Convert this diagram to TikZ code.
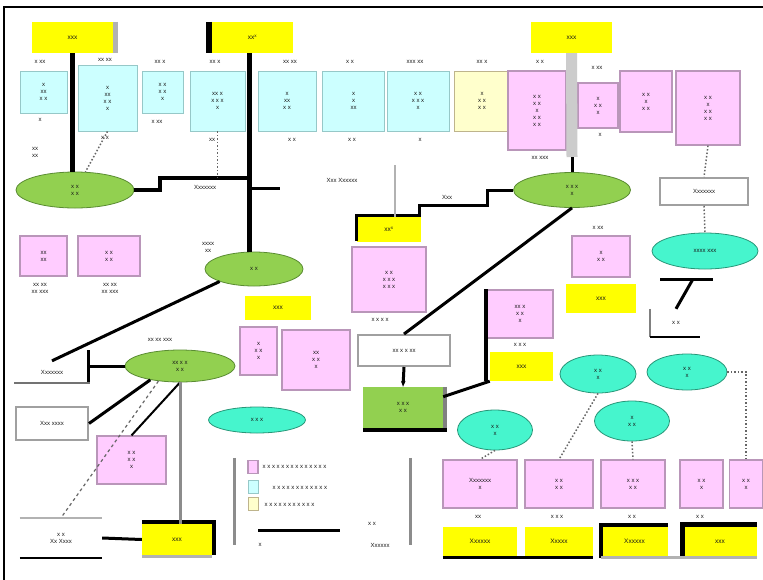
\documentclass[tikz,border=0pt]{standalone}
\usepackage{fontspec}
\setmainfont{Liberation Sans}
\usetikzlibrary{shapes.geometric,arrows.meta}
\definecolor{ylw}{RGB}{255,255,0}
\definecolor{cyb}{RGB}{204,255,255}
\definecolor{cyd}{RGB}{150,200,200}
\definecolor{pkb}{RGB}{255,204,255}
\definecolor{pkd}{RGB}{185,150,185}
\definecolor{lyb}{RGB}{255,255,204}
\definecolor{lyd}{RGB}{190,180,140}
\definecolor{grn}{RGB}{146,208,80}
\definecolor{grd}{RGB}{90,140,50}
\definecolor{trq}{RGB}{70,245,205}
\definecolor{trd}{RGB}{40,150,120}
\definecolor{gbd}{RGB}{160,160,160}
\newcommand\yft{\fontsize{6.5}{7.5}\selectfont}
\begin{document}
\begin{tikzpicture}[x=1pt,y=-1pt,
  every node/.style={font=\fontsize{6}{7}\selectfont,align=center,inner sep=0.5pt,text=black!90},
  ybox/.style={rectangle,fill=ylw,draw=none},
  cbox/.style={rectangle,fill=cyb,draw=cyd,line width=0.8pt},
  pbox/.style={rectangle,fill=pkb,draw=pkd,line width=1.2pt},
  lybox/.style={rectangle,fill=lyb,draw=lyd,line width=1pt},
  gell/.style={ellipse,fill=grn,draw=grd,line width=0.8pt,inner sep=0pt},
  tell/.style={ellipse,fill=trq,draw=trd,line width=0.8pt,inner sep=0pt},
  wbox/.style={rectangle,fill=white,draw=gbd,line width=2pt},
  conn/.style={draw=black,line width=3pt},
  lnk/.style={draw=black,line width=2pt},
  dotl/.style={draw=black!60,line width=1.5pt,dotted},
  gryl/.style={draw=black!30,line width=2pt},
  shd/.style={draw=black,line width=#1},
]
\useasboundingbox (0,0) rectangle (763,579);
\fill[white] (0,0) rectangle (763,579);
\draw[line width=1.6pt] (4,600) -- (4,7) -- (800,7);

% ---------- top yellow labels
\node[ybox,minimum width=81pt,minimum height=31pt] (Y1) at (72.5,37.5) {\yft xxx};
\node[ybox,minimum width=81pt,minimum height=31pt] (Y2) at (252.5,37.5) {\yft xx\textsuperscript{x}};
\node[ybox,minimum width=81pt,minimum height=31pt] (Y3) at (571.5,37.5) {\yft xxx};
\draw[draw=black!30,line width=5pt] ([xshift=2.5pt]Y1.north east) -- ([xshift=2.5pt]Y1.south east);
\draw[shd=6pt] ([xshift=-3pt]Y2.north west) -- ([xshift=-3pt]Y2.south west);

% ---------- cyan row
\node[cbox,minimum width=47pt,minimum height=42pt] (A1) at (43.5,92) {x\\xx\\x x};
\node[cbox,minimum width=59pt,minimum height=66pt] (A2) at (107.5,98) {x\\xx\\x x\\x};
\node[cbox,minimum width=41pt,minimum height=42pt] (A3) at (162.5,92) {x x\\x x\\x};
\node[cbox,minimum width=55pt,minimum height=60pt] (A4) at (217.5,101) {xx x\\x x x\\x};
\node[cbox,minimum width=58pt,minimum height=60pt] (A5) at (287,101) {x\\xx\\x x};
\node[cbox,minimum width=62pt,minimum height=60pt] (A6) at (353.5,101) {x\\x\\xx};
\node[cbox,minimum width=62pt,minimum height=60pt] (A7) at (418,101) {x x\\x x x\\x};
\node[lybox,minimum width=56pt,minimum height=60pt] (LY) at (482,101) {x\\x x\\x x};

% ---------- pink row top
\node[pbox,minimum width=58pt,minimum height=79pt] (B1) at (537,110.5) {x x\\x x\\x\\x x\\x x};
\node[pbox,minimum width=40pt,minimum height=45pt] (B2) at (598,105.5) {x\\x x\\x};
\node[pbox,minimum width=52pt,minimum height=61pt] (B3) at (646,101.5) {x x\\x\\x x};
\node[pbox,minimum width=64pt,minimum height=74pt] (B4) at (708,108) {x x\\x\\x x\\x x};

% small labels above / below top boxes
\node (t1) at (40,62) {x xx};
\node (t2) at (105,60) {xx xx};
\node (t3) at (160,62) {xx x};
\node (t4) at (215,62) {xx x};
\node (t5) at (290,62) {xx xx};
\node (t6) at (350,62) {x x};
\node (t7) at (415,62) {xxx xx};
\node (t8) at (482,62) {xx x};
\node (t9) at (540,62) {x x};
\node (t10) at (597,68) {x xx};
\node (u1) at (40,120) {x};
\node (u2) at (105,138) {x x};
\node (u3) at (157,122) {x xx};
\node (u4) at (212,140) {xx};
\node (u5) at (292,140) {x x};
\node (u6) at (352,140) {x x};
\node (u7) at (420,140) {x};
\node (u8) at (540,158) {xx xxx};
\node (u9) at (600,135) {x};

% ---------- green ellipses
\node[gell,minimum width=118pt,minimum height=36pt] (G1) at (75,190) {x x\\x x};
\node[gell,minimum width=98pt,minimum height=34pt] (G2) at (254,269) {x x};
\node[gell,minimum width=110pt,minimum height=32pt] (G3) at (180,366) {xx x x\\x x};
\node[gell,minimum width=117pt,minimum height=35pt] (G4) at (572,190) {x x x\\x};
\node[rectangle,fill=grn,draw=none,minimum width=80pt,minimum height=41pt] (GR) at (403,407.5) {x x x\\x x};
\draw[draw=black!50,line width=4pt] ([xshift=2pt]GR.north east) -- ([xshift=2pt]GR.south east);
\draw[shd=4pt] ([yshift=-2pt]GR.south west) -- ([xshift=4pt,yshift=-2pt]GR.south east);

% ---------- labels near green
\node (n1) at (35,152) {xx\\xx};
\node (n2) at (205,187) {Xxxxxxx};
\node (n3) at (342,180) {Xxx Xxxxxx};
\node (n4) at (447,197) {Xxx};
\node (n5) at (208,247) {xxxx\\xx};
\node (n6) at (160,340) {xx xx xxx};

% ---------- middle pinks
\node[pbox,minimum width=47pt,minimum height=40pt] (Pa) at (43.5,256) {xx\\xx};
\node[pbox,minimum width=62pt,minimum height=40pt] (Pb) at (109,256) {x x\\x x};
\node (pa1) at (40,288) {xx xx\\xx xxx};
\node (pb1) at (110,288) {xx xx\\xx xxx};

\node[ybox,minimum width=64pt,minimum height=25pt] (Yc) at (389,229.5) {\yft xx\textsuperscript{x}};
\draw[shd=3pt] ([yshift=1.5pt]Yc.south west) -- ([yshift=1.5pt]Yc.north west) -- ([yshift=1.5pt]Yc.north east);
\node[pbox,minimum width=74pt,minimum height=65pt] (Pc) at (389,279.5) {x x\\x x x\\x x x};
\node (pc1) at (380,320) {x x x x};

\node[pbox,minimum width=58pt,minimum height=41pt] (Pd) at (601,256.5) {x\\x x};
\node[ybox,minimum width=70pt,minimum height=29pt] (Yd) at (601,298.5) {\yft xxx};
\node (pd1) at (598,228) {x xx};

\node[pbox,minimum width=66pt,minimum height=48pt] (Pe) at (520,314) {xx x\\x x\\x};
\node[ybox,minimum width=63pt,minimum height=29pt] (Ye) at (521.5,366.5) {\yft xxx};
\draw[shd=4pt] (Pe.north west) -- (Pe.north west |- Ye.south);
\node (pe1) at (520,345) {x x x};

\node[ybox,minimum width=66pt,minimum height=24pt] (Yf) at (278,308) {\yft xxx};
\node[pbox,minimum width=37pt,minimum height=48pt] (Pf1) at (258.5,351) {x\\x x\\x};
\node[pbox,minimum width=68pt,minimum height=60pt] (Pf2) at (316,360) {xx\\x x\\x};

\node[pbox,minimum width=69pt,minimum height=48pt] (Pg) at (131.5,460) {x x\\x x\\x};

% ---------- turquoise ellipses
\node[tell,minimum width=106pt,minimum height=36pt] (C1) at (705,251) {xxxx xxx};
\node[tell,minimum width=76pt,minimum height=38pt] (C2) at (598,374) {x x\\x};
\node[tell,minimum width=80pt,minimum height=36pt] (C3) at (687,372) {x x\\x};
\node[tell,minimum width=75pt,minimum height=40pt] (C4) at (495,430) {x x\\x};
\node[tell,minimum width=75pt,minimum height=40pt] (C5) at (632,421) {x\\x x};
\node[tell,minimum width=97pt,minimum height=26pt] (C6) at (257,420) {x x x};

% ---------- white label boxes
\node[wbox,minimum width=88pt,minimum height=27pt] (L1) at (704,191.5) {Xxxxxxx};
\node[wbox,minimum width=92pt,minimum height=31pt] (L2) at (404,350.5) {xx x x xx};
\node[wbox,minimum width=72pt,minimum height=33pt] (L3) at (52,423.5) {Xxx xxxx};
\node[minimum width=82pt,minimum height=40pt] (L4) at (61,538) {x x\\Xx Xxxx};
\draw[gryl] (L4.north west) -- (L4.north east);
\draw[shd=2.5pt] (L4.south west) -- (L4.south east);
\node[minimum width=75pt,minimum height=22pt] (L5) at (52,372) {Xxxxxxx};
\draw[draw=black!55,line width=2.5pt] (L5.south west) -- (L5.south east);
\node[minimum width=52pt,minimum height=28pt] (L6) at (676,323) {x x};
\draw[draw=black!50,line width=2pt] (L6.north west) -- (L6.south west);
\draw[shd=2.5pt] (L6.south west) -- ([xshift=-2pt]L6.south east);

% ---------- bottom rows
\node[pbox,minimum width=74pt,minimum height=48pt] (Q1) at (480,484) {Xxxxxxx\\x};
\node[pbox,minimum width=68pt,minimum height=48pt] (Q2) at (559,484) {x x\\x x};
\node[pbox,minimum width=64pt,minimum height=48pt] (Q3) at (633,484) {x x x\\x x};
\node[pbox,minimum width=43pt,minimum height=48pt] (Q4) at (701.5,484) {x x\\x};
\node[pbox,minimum width=33pt,minimum height=48pt] (Q5) at (746,484) {x x\\x};
\node (q1) at (478,517) {xx};
\node (q2) at (557,517) {x x x};
\node (q3) at (632,517) {x x};
\node (q4) at (700,517) {x x};
\node[ybox,minimum width=74pt,minimum height=29pt] (Z1) at (480,541.5) {\yft Xxxxxx};
\node[ybox,minimum width=68pt,minimum height=29pt] (Z2) at (559,541.5) {\yft Xxxxx};
\node[ybox,minimum width=67pt,minimum height=29pt] (Z3) at (634.5,541.5) {\yft Xxxxxx};
\node[ybox,minimum width=74pt,minimum height=29pt] (Z4) at (720,541.5) {\yft xxx};
\draw[shd=3pt] ([yshift=-1.5pt]Z1.south west) -- ([yshift=-1.5pt]Z2.south east);
\draw[shd=4pt] ([yshift=-2pt]Z3.south west) -- ([yshift=2pt]Z3.north west) -- ([yshift=2pt]Z3.north east);
\draw[shd=5pt] ([yshift=-2pt]Z4.south west) -- ([yshift=2.5pt]Z4.north west) -- ([yshift=2.5pt]Z4.north east);
\draw[draw=black!30,line width=3pt] ([yshift=-1.5pt]Z3.south west) -- ([yshift=-1.5pt]Z4.south east);

\node[ybox,minimum width=70pt,minimum height=31pt] (Yb) at (177,539.5) {\yft xxx};
\draw[shd=4pt] ([yshift=2pt]Yb.north west) -- ([xshift=2pt,yshift=2pt]Yb.north east) -- ([xshift=2pt]Yb.south east);
\draw[draw=black!30,line width=3pt] ([yshift=-1.5pt]Yb.south west) -- ([yshift=-1.5pt]Yb.south east);

% ---------- legend
\node[minimum width=175pt,minimum height=87pt] (LG) at (322.5,501.5) {};
\draw[gryl,draw=black!45,line width=3pt] (LG.north west) -- (LG.south west);
\draw[gryl,draw=black!45,line width=3pt] (LG.north east) -- (LG.south east);
\node[pbox,minimum width=10pt,minimum height=13pt] (s1) at (253,467) {};
\node[cbox,minimum width=10pt,minimum height=13pt] (s2) at (253,487) {};
\node[lybox,minimum width=10pt,minimum height=13pt] (s3) at (253,504) {};
\node[anchor=west] (s1t) at (262,467) {x x x x x x x x x x x x x x};
\node[anchor=west] (s2t) at (272,488) {x x x x x x x x x x x x};
\node[anchor=west] (s3t) at (264,505) {x x x x x x x x x x x};
\coordinate (lg1) at (258,530);
\coordinate (lg2) at (340,530);
\draw[shd=3pt] (lg1) -- (lg2);
\node (s4t) at (372,524) {x x};
\node (s5t) at (380,545) {Xxxxxx};
\node (s6t) at (260,545) {x};

% ---------- connectors
\draw[conn,line width=5pt] (Y1.south) -- (Y1.south |- G1.north);
\draw[conn,line width=5pt] ([xshift=-3pt]Y2.south) -- ([xshift=-3pt]Y2.south |- G2.north);
\coordinate (j1) at (250,178);
\coordinate (j2) at (280,188);
\draw[conn,line width=4pt] (G1.east) -- ++(26,0) |- (j1);
\draw[conn] (j2 -| j1) -- (j2);
\coordinate (k2) at (487,205);
\draw[conn] ([xshift=-2pt]Yc.north east) |- (k2) |- (G4.west);
\coordinate (y3b) at (572,157);
\draw[draw=black!20,line width=11pt] (Y3.south) -- (y3b);
\draw[conn] (y3b) -- (G4.north);
\draw[conn] (G4.south) -- (L2.north);
\draw[conn,-{Stealth[length=6pt]}] (L2.south) -- (GR.north);
\draw[conn] (G2.200) -- (L5.north);
\coordinate (b1) at (88,350);
\coordinate (b2) at (88,382);
\draw[conn] (G3.west) -- (G3.west -| b1);
\draw[conn] (b1) -- (b2);
\draw[conn] (G3.205) -- (L3.east);
\draw[draw=black!60,line width=1.2pt,dashed] (G3.215) -- (L4.north);
\draw[lnk] (G3.south) -- (Pg.north);
\draw[draw=black!45,line width=3pt] (G3.south) -- (G3.south |- Yb.north);
\draw[conn] (L4.east) -- (Yb.west);
\draw[conn] (GR.15) -- (Ye.south west);
\draw[dotl] (B4.south) -- (L1.north);
\draw[dotl] (L1.south) -- (C1.north);
\coordinate (c1a) at (660,279);
\coordinate (c1b) at (713,279);
\coordinate (c1m) at (693,279);
\draw[conn] (c1a) -- (c1b);
\draw[conn] (c1m) -- (L6.north);
\coordinate (g1) at (395,165);
\draw[draw=black!30,line width=2pt] (g1) -- (g1 |- Yc.north);
\draw[dotl] (A2.south) -- (G1.60);
\draw[dotl] (A4.south) -- (A4.south |- j1);
\draw[dotl] (C3.east) -| (Q5.north);
\draw[dotl] (C5.south) -- (Q3.north);
\draw[dotl] (C2.south) -- (Q2.north);
\draw[dotl] (C4.south) -- (Q1.north);
\end{tikzpicture}
\end{document}
